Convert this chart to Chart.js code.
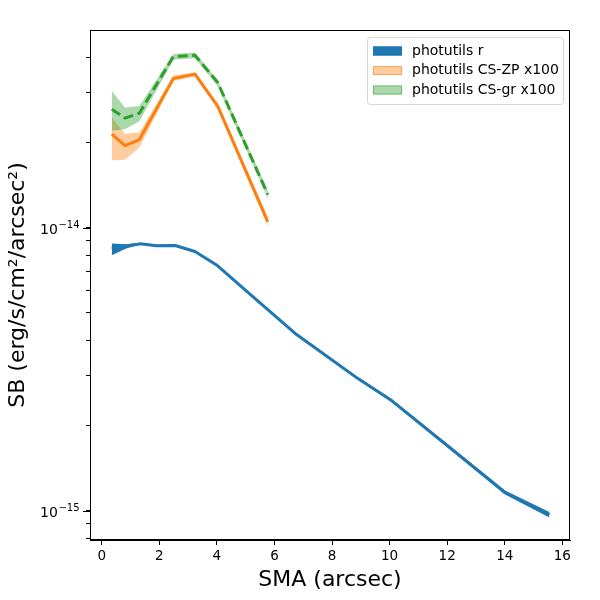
<!DOCTYPE html>
<html>
<head>
<meta charset="utf-8">
<script src="https://cdn.jsdelivr.net/npm/chart.js@4.4.0/dist/chart.umd.min.js"></script>
<style>
  html, body { margin: 0; padding: 0; background: #fff; }
  #wrap { width: 600px; height: 600px; }
</style>
</head>
<body>
<div id="wrap"><canvas id="sbChart" width="600" height="600"></canvas></div>
<script>
// photutils r profile (value, upper and lower edge of the band)
const smaR   = [0.35, 0.85, 1.33, 1.91, 2.55, 3.24, 3.99, 5.0, 6.72, 8.9, 10.07, 12.0, 14.01, 15.55];
const sbR    = [8.45e-15, 8.62e-15, 8.77e-15, 8.63e-15, 8.65e-15, 8.24e-15, 7.39e-15, 6.01e-15, 4.23e-15, 2.93e-15, 2.45e-15, 1.70e-15, 1.16e-15, 9.68e-16];
const sbRHi  = [8.80e-15, 8.75e-15, 8.85e-15, 8.70e-15, 8.72e-15, 8.31e-15, 7.45e-15, 6.06e-15, 4.27e-15, 2.96e-15, 2.48e-15, 1.72e-15, 1.18e-15, 9.90e-16];
const sbRLo  = [8.00e-15, 8.45e-15, 8.70e-15, 8.56e-15, 8.58e-15, 8.17e-15, 7.33e-15, 5.96e-15, 4.19e-15, 2.90e-15, 2.42e-15, 1.68e-15, 1.14e-15, 9.46e-16];

// CS profiles (x100)
const smaCS  = [0.35, 0.81, 1.31, 2.49, 3.24, 4.03, 5.77];
const sbZP   = [2.14e-14, 1.95e-14, 2.05e-14, 3.37e-14, 3.49e-14, 2.69e-14, 1.05e-14];
const sbZPHi = [2.45e-14, 2.15e-14, 2.17e-14, 3.45e-14, 3.54e-14, 2.75e-14, 1.09e-14];
const sbZPLo = [1.73e-14, 1.74e-14, 1.92e-14, 3.30e-14, 3.42e-14, 2.63e-14, 1.01e-14];
const sbGr   = [2.62e-14, 2.44e-14, 2.54e-14, 4.03e-14, 4.07e-14, 3.26e-14, 1.31e-14];
const sbGrHi = [3.04e-14, 2.66e-14, 2.69e-14, 4.11e-14, 4.16e-14, 3.33e-14, 1.36e-14];
const sbGrLo = [2.20e-14, 2.23e-14, 2.38e-14, 3.92e-14, 3.97e-14, 3.17e-14, 1.27e-14];

const xTicks = [0, 2, 4, 6, 8, 10, 12, 14, 16];
const yMajor = [1e-15, 1e-14];
const yMajorExp = ['\u221215', '\u221214'];
const yMinor = [8e-16, 9e-16, 2e-15, 3e-15, 4e-15, 5e-15, 6e-15, 7e-15, 8e-15, 9e-15, 2e-14, 3e-14, 4e-14];

function pts(xs, ys) {
    return xs.map((x, i) => ({ x: x, y: ys[i] }));
}

const band = (xs, ys, color, order, extra) => Object.assign({
    data: pts(xs, ys),
    borderWidth: 0,
    pointRadius: 0,
    backgroundColor: color,
    tension: 0,
    order: order
}, extra || {});

const line = (xs, ys, color, order, dash) => ({
    data: pts(xs, ys),
    borderColor: color,
    borderWidth: 3,
    borderDash: dash || [],
    borderJoinStyle: 'round',
    pointRadius: 0,
    fill: false,
    tension: 0,
    order: order
});

const FONT = '"DejaVu Sans", sans-serif';

const frameAndLegend = {
    id: 'frameAndLegend',
    afterDraw(chart) {
        const { ctx, chartArea: { left, right, top, bottom } } = chart;
        ctx.save();
        // full axes box
        ctx.strokeStyle = '#000';
        ctx.lineWidth = 1;
        ctx.strokeRect(left + 0.5, top + 0.5, right - left - 1, bottom - top - 1);

        // longer major ticks on the log axis, and 10^n labels
        const ys = chart.scales.y;
        ctx.beginPath();
        yMajor.forEach((v, i) => {
            const py = Math.round(ys.getPixelForValue(v)) + 0.5;
            ctx.moveTo(left - 7, py);
            ctx.lineTo(left, py);
        });
        ctx.stroke();
        ctx.fillStyle = '#000';
        ctx.textAlign = 'left';
        ctx.textBaseline = 'alphabetic';
        yMajor.forEach((v, i) => {
            const py = ys.getPixelForValue(v);
            ctx.font = '14px ' + FONT;
            const wBase = ctx.measureText('10').width;
            ctx.font = '10px ' + FONT;
            const wExp = ctx.measureText(yMajorExp[i]).width;
            const x0 = left - 11 - wBase - wExp;
            ctx.font = '14px ' + FONT;
            ctx.fillText('10', x0, py + 6);
            ctx.font = '10px ' + FONT;
            ctx.fillText(yMajorExp[i], x0 + wBase + 0.5, py);
        });

        // legend box, upper right
        const items = chart.data.datasets.filter(d => d.inLegend).sort((a, b) => b.order - a.order);
        const bw = 196, bh = 67;
        const bx = right - 7 - bw, by = top + 7;
        ctx.fillStyle = 'rgba(255,255,255,0.8)';
        ctx.strokeStyle = 'rgba(204,204,204,0.8)';
        ctx.beginPath();
        ctx.roundRect(bx + 0.5, by + 0.5, bw, bh, 3);
        ctx.fill();
        ctx.stroke();

        ctx.font = '14px ' + FONT;
        ctx.textBaseline = 'middle';
        ctx.textAlign = 'left';
        items.forEach((d, i) => {
            const cy = by + 14 + i * 19.5;
            ctx.fillStyle = d.backgroundColor;
            ctx.fillRect(bx + 6, cy - 4.5, 29, 9);
            ctx.strokeStyle = d.legendEdge;
            ctx.lineWidth = 1;
            ctx.strokeRect(bx + 6.5, cy - 4, 28, 8);
            ctx.fillStyle = '#000';
            ctx.fillText(d.label, bx + 45, cy);
        });
        ctx.restore();
    }
};

const ctx = document.getElementById('sbChart');
const myChart = new Chart(ctx, {
    type: 'line',
    data: {
        datasets: [
            line(smaCS, sbGr, '#2ca02c', 1, [10, 4.5]),
            band(smaCS, sbGrHi, 'rgba(44,160,44,0.4)', 2, { fill: '+1', label: 'photutils CS-gr x100', inLegend: true, legendEdge: 'rgba(44,160,44,0.5)' }),
            band(smaCS, sbGrLo, 'rgba(44,160,44,0.4)', 2, { fill: false }),
            line(smaCS, sbZP, '#ff7f0e', 3),
            band(smaCS, sbZPHi, 'rgba(255,127,14,0.4)', 4, { fill: '+1', label: 'photutils CS-ZP x100', inLegend: true, legendEdge: 'rgba(255,127,14,0.5)' }),
            band(smaCS, sbZPLo, 'rgba(255,127,14,0.4)', 4, { fill: false }),
            line(smaR, sbR, '#1f77b4', 5),
            band(smaR, sbRHi, '#1f77b4', 6, { fill: '+1', label: 'photutils r', inLegend: true, legendEdge: '#1f77b4' }),
            band(smaR, sbRLo, '#1f77b4', 6, { fill: false })
        ]
    },
    options: {
        responsive: false,
        animation: false,
        layout: { padding: { top: 30, right: 30, left: 0, bottom: 0 } },
        scales: {
            x: {
                type: 'linear',
                min: -0.406,
                max: 16.266,
                afterBuildTicks: (scale) => { scale.ticks = xTicks.map(v => ({ value: v })); },
                afterFit: (scale) => { scale.height = 60; },
                grid: { drawOnChartArea: false, drawTicks: true, tickLength: 5, tickColor: '#000' },
                border: { display: true, color: '#000', width: 1 },
                ticks: { color: '#000', font: { family: FONT, size: 13.5 }, padding: 3, autoSkip: false, maxRotation: 0 },
                title: { display: true, text: 'SMA (arcsec)', color: '#000', font: { family: FONT, size: 22 }, padding: { bottom: 7 } }
            },
            y: {
                type: 'logarithmic',
                min: 7.88e-16,
                max: 4.997e-14,
                afterBuildTicks: (scale) => {
                    scale.ticks = yMinor.concat(yMajor).sort((a, b) => a - b).map(v => ({ value: v }));
                },
                afterFit: (scale) => { scale.width = 90; },
                grid: { drawOnChartArea: false, drawTicks: true, tickLength: 4, tickColor: '#000' },
                border: { display: true, color: '#000', width: 1 },
                ticks: {
                    color: '#000',
                    font: { family: FONT, size: 13.5 },
                    padding: 6,
                    autoSkip: false,
                    // the 10^n labels are drawn by the plugin with a raised exponent
                    callback: () => ''
                },
                title: { display: true, text: 'SB (erg/s/cm\u00B2/arcsec\u00B2)', color: '#000', font: { family: FONT, size: 22 }, padding: { top: 5 } }
            }
        },
        plugins: {
            legend: { display: false },
            tooltip: { enabled: false }
        }
    },
    plugins: [frameAndLegend]
});
</script>
</body>
</html>
